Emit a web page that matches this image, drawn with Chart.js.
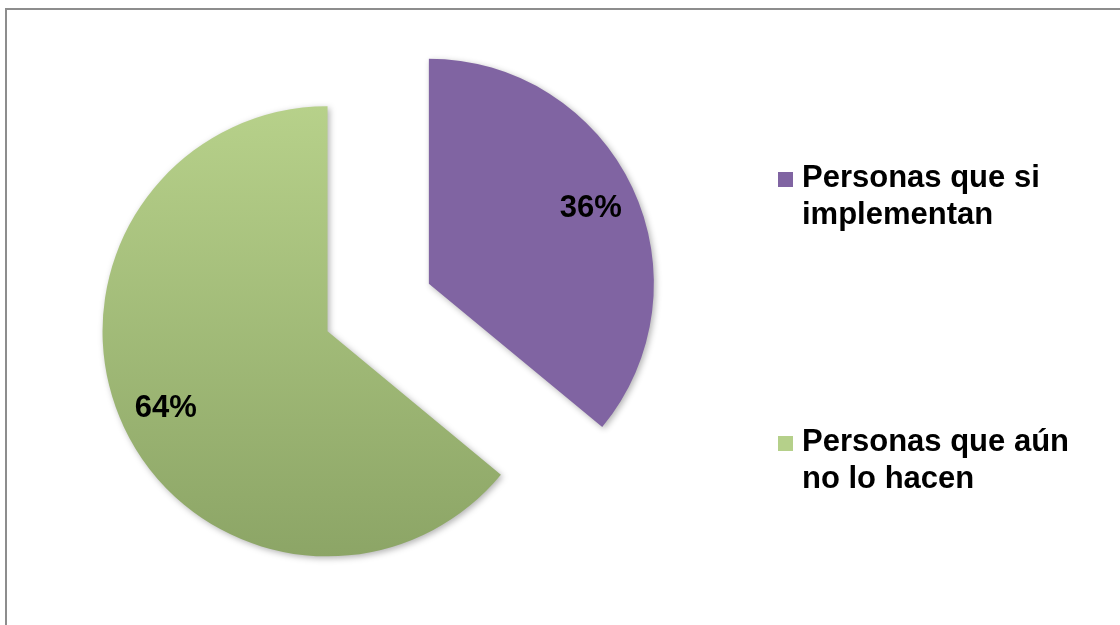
<!DOCTYPE html>
<html>
<head>
<meta charset="utf-8">
<script src="https://cdn.jsdelivr.net/npm/chart.js@4/dist/chart.umd.min.js"></script>
<style>
  html, body { margin: 0; padding: 0; background: #fff; }
  canvas { display: block; }
</style>
</head>
<body>
<canvas id="myChart" width="1120" height="625"></canvas>
<script>
// Data
var categories = [["Personas que si", "implementan"], ["Personas que aún", "no lo hacen"]];
var values = [36, 64];

var sliceColors = ['#8064A2', '#9BBB59'];
var legendColors = ['#8064A2', '#B5D08A'];

var PIE_RADIUS = 225;
var EXPLODE = 56;
var FONT = 'bold 31px "Liberation Sans", Arial, sans-serif';

// Green slice gets a soft top-to-bottom gradient
function sliceFill(context) {
    var chart = context.chart;
    var area = chart.chartArea;
    if (context.dataIndex !== 1 || !area) return sliceColors[context.dataIndex];
    var cy = (area.top + area.bottom) / 2;
    var g = chart.ctx.createLinearGradient(0, cy - PIE_RADIUS, 0, cy + PIE_RADIUS + 25);
    g.addColorStop(0, '#B9D38C');
    g.addColorStop(1, '#8CA566');
    return g;
}

// Frame around the chart
var framePlugin = {
    id: 'frame',
    beforeDraw: function (chart) {
        var ctx = chart.ctx;
        ctx.save();
        ctx.strokeStyle = '#8d8d8d';
        ctx.lineWidth = 2;
        ctx.strokeRect(6, 9, 1300, 800);
        ctx.restore();
    }
};

// Pull the slices apart and add a drop shadow
var explodePlugin = {
    id: 'explode',
    beforeDatasetsDraw: function (chart) {
        var arcs = chart.getDatasetMeta(0).data;
        arcs.forEach(function (arc) {
            var mid = (arc.startAngle + arc.endAngle) / 2;
            arc._baseX = arc.x;
            arc._baseY = arc.y;
            arc.x += Math.cos(mid) * EXPLODE;
            arc.y += Math.sin(mid) * EXPLODE;
        });
        var ctx = chart.ctx;
        ctx.save();
        ctx.shadowColor = 'rgba(0, 0, 0, 0.3)';
        ctx.shadowBlur = 6;
        ctx.shadowOffsetX = 2;
        ctx.shadowOffsetY = 2;
    },
    afterDatasetsDraw: function (chart) {
        var ctx = chart.ctx;
        ctx.restore();
        var data = chart.data.datasets[0].data;
        var total = data.reduce(function (a, b) { return a + b; }, 0);
        var arcs = chart.getDatasetMeta(0).data;
        ctx.save();
        ctx.font = FONT;
        ctx.fillStyle = '#000';
        ctx.textAlign = 'center';
        ctx.textBaseline = 'middle';
        arcs.forEach(function (arc, i) {
            var mid = (arc.startAngle + arc.endAngle) / 2;
            var r = arc.outerRadius * 0.795;
            var pct = Math.round(data[i] / total * 100) + '%';
            ctx.fillText(pct, arc.x + Math.cos(mid) * r, arc.y + Math.sin(mid) * r + 1);
        });
        ctx.restore();
        arcs.forEach(function (arc) {
            arc.x = arc._baseX;
            arc.y = arc._baseY;
        });
    }
};

// Legend with wrapped labels on the right
var sideLegend = {
    id: 'sideLegend',
    afterDraw: function (chart) {
        var ctx = chart.ctx;
        var baselines = [187, 451];
        ctx.save();
        ctx.font = FONT;
        ctx.fillStyle = '#000';
        ctx.textAlign = 'left';
        ctx.textBaseline = 'alphabetic';
        chart.data.labels.forEach(function (lines, i) {
            var y = baselines[i];
            ctx.fillStyle = legendColors[i];
            ctx.fillRect(778, y - 15, 15, 15);
            ctx.fillStyle = '#000';
            lines.forEach(function (line, j) {
                ctx.fillText(line, 802, y + j * 37);
            });
        });
        ctx.restore();
    }
};

var ctx = document.getElementById('myChart').getContext('2d');
var myPieChart = new Chart(ctx, {
    type: 'pie',
    data: {
        labels: categories,
        datasets: [{
            data: values,
            backgroundColor: sliceFill,
            borderWidth: 0
        }]
    },
    options: {
        responsive: false,
        animation: false,
        events: [],
        radius: PIE_RADIUS,
        layout: {
            padding: { left: 100, right: 463.6, top: 40, bottom: 50 }
        },
        plugins: {
            legend: { display: false },
            tooltip: { enabled: false }
        }
    },
    plugins: [framePlugin, explodePlugin, sideLegend]
});
</script>
</body>
</html>
